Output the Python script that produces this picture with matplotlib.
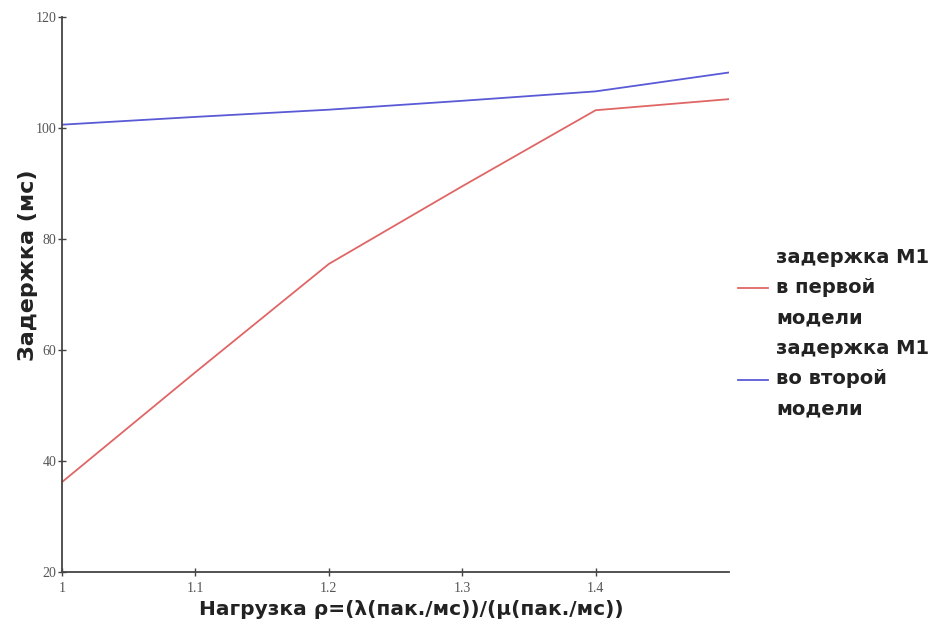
import matplotlib
matplotlib.use("Agg")
import matplotlib.pyplot as plt

# Нагрузка и задержки (мс)
load = [1.0, 1.1, 1.2, 1.3, 1.4, 1.5]
delay_m1_model1 = [36.2, 56.0, 75.5, 89.5, 103.2, 105.2]
delay_m1_model2 = [100.6, 102.0, 103.3, 104.9, 106.6, 110.0]

x_ticks = [1, 1.1, 1.2, 1.3, 1.4]
x_tick_labels = ["1", "1.1", "1.2", "1.3", "1.4"]
y_ticks = [20, 40, 60, 80, 100, 120]

label_model1 = "задержка М1\nв первой\nмодели"
label_model2 = "задержка М1\nво второй\nмодели"

fig = plt.figure(figsize=(9.51, 6.38), dpi=100)
ax = fig.add_axes([62 / 951, 66 / 638, 667 / 951, 555 / 638])

ax.plot(load, delay_m1_model1, color="#e06666", lw=1.3, label=label_model1)
ax.plot(load, delay_m1_model2, color="#5a5ad6", lw=1.3, label=label_model2)

ax.set_xlim(1, 1.5)
ax.set_ylim(20, 120)
ax.set_xticks(x_ticks)
ax.set_xticklabels(x_tick_labels)
ax.set_yticks(y_ticks)

for s in ["top", "right"]:
    ax.spines[s].set_visible(False)
for s in ["left", "bottom"]:
    ax.spines[s].set_color("#444444")
    ax.spines[s].set_linewidth(1.3)

ax.tick_params(direction="inout", length=6, width=1, color="#444444",
               labelsize=10, labelcolor="#555555")
ax.tick_params(axis="x", pad=4)
ax.tick_params(axis="y", pad=1)
for t in ax.get_xticklabels() + ax.get_yticklabels():
    t.set_fontfamily("Liberation Serif")

ax.set_xlabel("Нагрузка ρ=(λ(пак./мс))/(μ(пак./мс))", fontsize=14.5,
              fontweight="bold", family="DejaVu Sans", color="#222222")
ax.set_ylabel("Задержка (мс)", fontsize=16, fontweight="bold",
              family="DejaVu Sans", color="#222222")
ax.xaxis.set_label_coords(0.523, -0.05)
ax.yaxis.set_label_coords(-0.036, 0.553)

leg = ax.legend(loc="center left", bbox_to_anchor=(1.0135, 0.43), frameon=False,
                borderaxespad=0, borderpad=0,
                handlelength=1.55, handletextpad=0.4, labelspacing=0.6,
                prop={"family": "DejaVu Sans", "weight": "bold", "size": 14})
for t in leg.get_texts():
    t.set_color("#222222")
    t.set_linespacing(1.75)

fig.savefig("out.png", dpi=100)
